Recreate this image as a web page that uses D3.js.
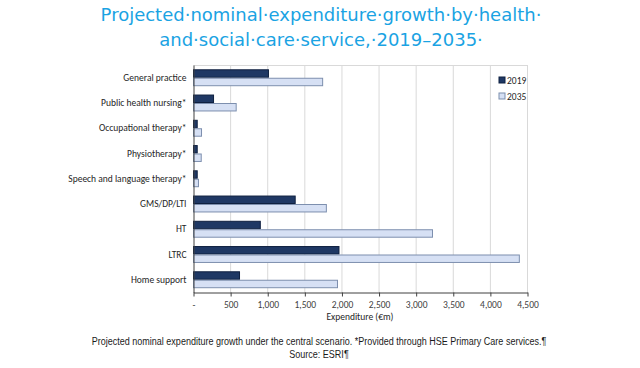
<!DOCTYPE html>
<html lang="en">
<head>
  <meta charset="UTF-8">
  <title>Projected nominal expenditure growth</title>
  <script src="https://cdnjs.cloudflare.com/ajax/libs/d3/7.8.5/d3.min.js"></script>
  <style>
    body { margin: 0; background: #fff; }
  </style>
</head>
<body>
  <svg></svg>
  <script>
    const categories = ['General practice', 'Public health nursing*', 'Occupational therapy*', 'Physiotherapy*',
      'Speech and language therapy*', 'GMS/DP/LTI', 'HT', 'LTRC', 'Home support'];
    const years = ['2019', '2035'];
    const values2019 = [1010, 270, 50, 50, 50, 1370, 900, 1960, 620];
    const values2035 = [1740, 575, 108, 104, 67, 1790, 3220, 4390, 1940];
    const xTicks = [0, 500, 1000, 1500, 2000, 2500, 3000, 3500, 4000, 4500];

    const width = 640, height = 368;
    const svg = d3.select('svg').attr('width', width).attr('height', height);

    // title (with the visible space marks from the original)
    const titleLines = ['Projected·nominal·expenditure·growth·by·health·', 'and·social·care·service,·2019–2035·'];
    svg.selectAll('text.title')
      .data(titleLines)
      .enter()
      .append('text')
      .attr('class', 'title')
      .attr('x', 321)
      .attr('y', (d, i) => 21 + i * 25)
      .attr('text-anchor', 'middle')
      .style('font-family', 'DejaVu Sans')
      .style('font-size', '18px')
      .style('fill', '#1aa3e3')
      .text(d => d);

    const x = d3.scaleLinear().domain([0, 4500]).range([193.5, 527.5]);
    const y = d3.scaleBand().domain(categories).range([65, 292.5]).paddingInner(0.33).paddingOuter(0.17);
    const sub = d3.scaleBand().domain(years).range([0, y.bandwidth()]);

    const g = svg.append('g');

    // gridlines
    g.selectAll('line.grid')
      .data(xTicks.slice(1))
      .enter()
      .append('line')
      .attr('x1', d => x(d)).attr('x2', d => x(d))
      .attr('y1', 65).attr('y2', 292.5)
      .style('stroke', '#d9d9d9')
      .style('stroke-width', '1px');
    g.append('line')
      .attr('x1', x(0)).attr('x2', x(4500))
      .attr('y1', 65.5).attr('y2', 65.5)
      .style('stroke', '#d9d9d9');

    const series = [
      { year: '2019', vals: values2019, fill: '#1f3864', stroke: '#0f2040' },
      { year: '2035', vals: values2035, fill: '#d6e0f4', stroke: '#7d8fae' }
    ];

    series.forEach(s => {
      g.selectAll('rect.b' + s.year)
        .data(categories)
        .enter()
        .append('rect')
        .attr('x', x(0))
        .attr('y', d => y(d) + sub(s.year) + 0.5)
        .attr('width', (d, i) => x(s.vals[i]) - x(0))
        .attr('height', sub.bandwidth() - 1)
        .style('fill', s.fill)
        .style('stroke', s.stroke)
        .style('stroke-width', '1px');
    });

    // x axis
    const xAxis = d3.axisBottom(x)
      .tickValues(xTicks)
      .tickSize(4)
      .tickSizeOuter(0)
      .tickFormat(d => d === 0 ? '-' : d3.format(',')(d));
    const xa = svg.append('g').attr('transform', 'translate(0,292.5)').call(xAxis);
    xa.select('.domain').style('stroke', '#404040');
    xa.selectAll('.tick line').style('stroke', '#404040');
    xa.selectAll('.tick text')
      .attr('dy', '0.9em')
      .style('font-family', 'Carlito, Lato, sans-serif')
      .style('font-size', '9.5px')
      .style('fill', '#404040');

    // y axis
    const yAxis = d3.axisLeft(y).tickSize(0).tickPadding(7);
    const ya = svg.append('g').attr('transform', 'translate(193.5,0)').call(yAxis);
    ya.select('.domain').style('stroke', '#404040');
    ya.selectAll('.tick text')
      .style('font-family', 'Carlito, Lato, sans-serif')
      .style('font-size', '9.5px')
      .style('fill', '#262626');

    svg.append('text')
      .attr('x', 360).attr('y', 320)
      .attr('text-anchor', 'middle')
      .style('font-family', 'Carlito, Lato, sans-serif')
      .style('font-size', '9.5px')
      .style('fill', '#262626')
      .text('Expenditure (€m)');

    // legend
    const legend = svg.selectAll('g.legend')
      .data(series)
      .enter()
      .append('g')
      .attr('class', 'legend')
      .attr('transform', (d, i) => `translate(499,${77 + i * 16})`);
    legend.append('rect')
      .attr('width', 6).attr('height', 6)
      .style('fill', d => d.fill)
      .style('stroke', d => d.stroke);
    legend.append('text')
      .attr('x', 8).attr('y', 6.5)
      .style('font-family', 'Carlito, Lato, sans-serif')
      .style('font-size', '9.5px')
      .style('fill', '#262626')
      .text(d => d.year);

    // caption: original is a condensed face, so squeeze horizontally
    const captions = ['Projected nominal expenditure growth under the central scenario. *Provided through HSE Primary Care services.¶', 'Source: ESRI¶'];
    const squeeze = 0.82;
    svg.append('g')
      .attr('transform', `translate(319,0) scale(${squeeze},1)`)
      .selectAll('text.cap')
      .data(captions)
      .enter()
      .append('text')
      .attr('class', 'cap')
      .attr('x', 0)
      .attr('y', (d, i) => 345 + i * 13)
      .attr('text-anchor', 'middle')
      .style('font-family', '"Liberation Sans", Arial, sans-serif')
      .style('font-size', '11px')
      .style('fill', '#1a1a1a')
      .text(d => d);
  </script>
</body>
</html>
